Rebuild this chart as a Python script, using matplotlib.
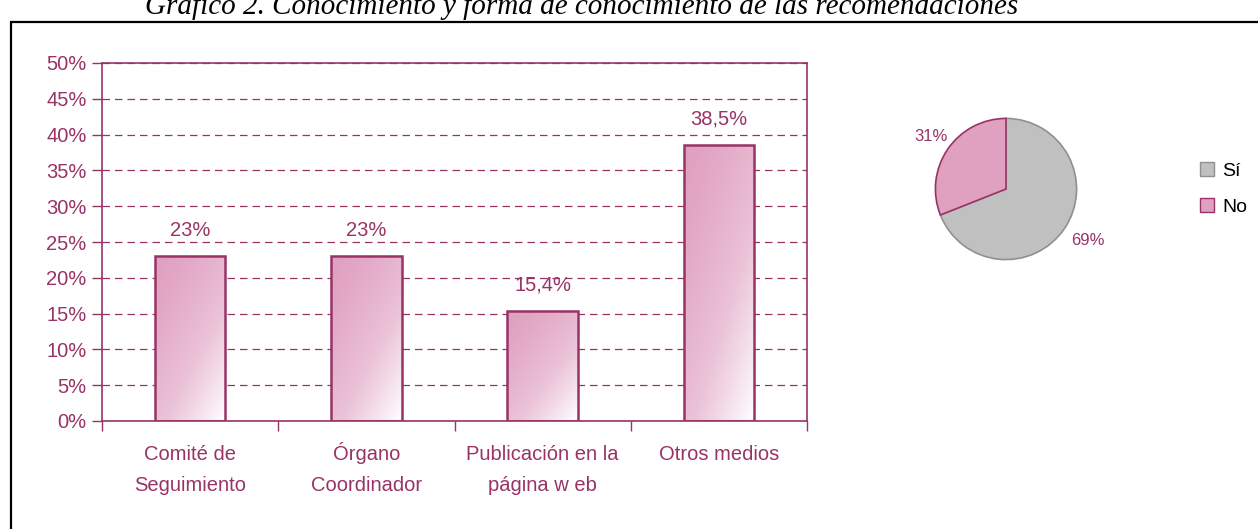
import numpy as np
import matplotlib.pyplot as plt
from matplotlib.patches import Rectangle, Patch
from matplotlib.colors import LinearSegmentedColormap

# datos
categorias = ['Comité de\nSeguimiento', 'Órgano\nCoordinador',
              'Publicación en la\npágina w eb', 'Otros medios']
valores = [23.0, 23.0, 15.4, 38.5]
etiquetas_barras = ['23%', '23%', '15,4%', '38,5%']

pie_labels = ['Sí', 'No']
pie_valores = [69, 31]

titulo = 'Gráfico 2. Conocimiento y forma de conocimiento de las recomendaciones'

PLUM = '#993366'
PINK = '#E0A0C0'
GRAY = '#C0C0C0'

plt.rcParams['font.family'] = ['Liberation Sans', 'DejaVu Sans']

fig = plt.figure(figsize=(12.58, 5.29), dpi=100)

# titulo cortado arriba
fig.text(582 / 1258, 1 - 14 / 529, titulo, ha='center', va='baseline',
         fontsize=21, style='italic', family=['Liberation Serif'])

# marco negro
fig.patches.append(Rectangle((11 / 1258, -0.1), 1.2, 1 - 22 / 529 + 0.1,
                             transform=fig.transFigure, fill=False,
                             edgecolor='black', linewidth=1.6))

# --- barras ---
ax = fig.add_axes([102 / 1258, 1 - 421 / 529, 705 / 1258, 358 / 529])
x = np.arange(len(valores))
ancho = 0.4
bars = ax.bar(x, valores, width=ancho, color='none', edgecolor=PLUM,
              linewidth=1.8, zorder=3)

# relleno degradado (rosa arriba-izquierda, blanco abajo-derecha)
cmap = LinearSegmentedColormap.from_list('rosa', [PINK, '#EBC3D8', '#FFFFFF'])
gx, gy = np.meshgrid(np.linspace(0, 1, 60), np.linspace(0, 1, 200))
for b in bars:
    x0, w, h = b.get_x(), b.get_width(), b.get_height()
    grad = (0.45 * gx + 0.55 * gy) ** 1.4
    im = ax.imshow(grad, cmap=cmap, vmin=0, vmax=1, aspect='auto',
                   extent=(x0, x0 + w, 0, h), origin='upper', zorder=2)
    im.set_clip_path(b)

for xi, v, lab in zip(x, valores, etiquetas_barras):
    ax.annotate(lab, (xi, v), xytext=(0, 12), textcoords='offset points',
                ha='center', va='bottom', color=PLUM, fontsize=14.5)

ax.set_xlim(-0.5, 3.5)
ax.set_ylim(0, 50)
ax.set_yticks(np.arange(0, 51, 5))
ax.set_yticklabels([f'{v}%' for v in range(0, 51, 5)], color=PLUM, fontsize=14.5)
ax.set_xticks(x)
ax.set_xticklabels([])
ax.tick_params(axis='x', length=0)
# etiquetas de categoria, una linea cada vez
trans = ax.get_xaxis_transform()
for xi, cat in zip(x, categorias):
    for k, linea in enumerate(cat.split('\n')):
        ax.text(xi, -(39 + 31 * k) / 358, linea, transform=trans,
                ha='center', va='baseline', color=PLUM, fontsize=14.5)
ax.set_xticks(np.arange(-0.5, 4, 1), minor=True)
ax.tick_params(axis='x', which='minor', length=7, color=PLUM, width=1)
ax.tick_params(axis='y', length=7, color=PLUM, width=1, pad=4)
ax.yaxis.grid(True, linestyle=(0, (6, 4)), color=PLUM, linewidth=0.9, zorder=1)
ax.set_axisbelow(True)
for s in ax.spines.values():
    s.set_color(PLUM)
    s.set_linewidth(1.2)

# --- circular ---
axp = fig.add_axes([934 / 1258, 1 - 261 / 529, 144 / 1258, 144 / 529])
wedges, _ = axp.pie(pie_valores, colors=[GRAY, PINK], startangle=90,
                    counterclock=False, radius=1)
wedges[0].set_edgecolor('#909090')
wedges[1].set_edgecolor(PLUM)
for w in wedges:
    w.set_linewidth(1.2)
axp.set_xlim(-1.02, 1.02)
axp.set_ylim(-1.02, 1.02)
axp.set_aspect('equal')
axp.text(-0.82, 0.75, f'{pie_valores[1]}%', color=PLUM, fontsize=12,
         ha='right', va='center')
axp.text(0.92, -0.73, f'{pie_valores[0]}%', color=PLUM, fontsize=12,
         ha='left', va='center')

handles = [Patch(facecolor=GRAY, edgecolor='#909090', label=pie_labels[0]),
           Patch(facecolor=PINK, edgecolor=PLUM, label=pie_labels[1])]
fig.legend(handles=handles, loc='center left',
           bbox_to_anchor=(1190 / 1258, 1 - 189 / 529), frameon=False,
           fontsize=14, handlelength=0.75, handleheight=0.75,
           handletextpad=0.4, labelspacing=0.95, borderpad=0)

fig.savefig('out.png', dpi=100)
